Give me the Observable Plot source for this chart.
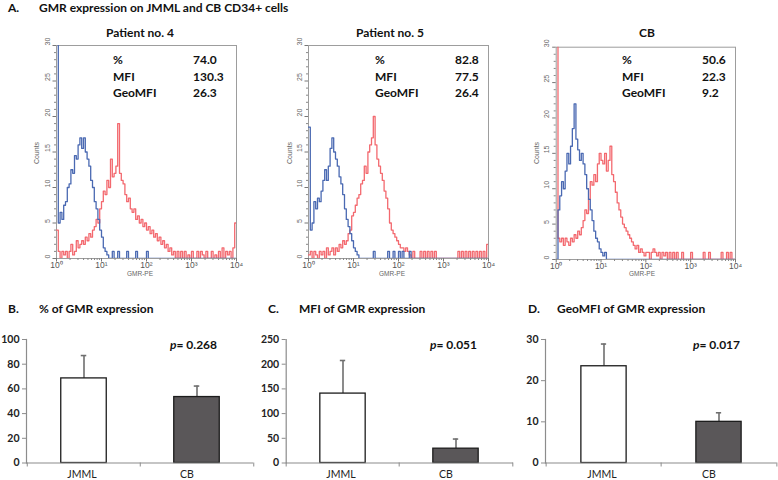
<!DOCTYPE html>
<html><head><meta charset="utf-8">
<script src="https://cdn.jsdelivr.net/npm/d3@7"></script>
<script src="https://cdn.jsdelivr.net/npm/@observablehq/plot@0.6"></script>
<style>
body{margin:0;background:#fff;}
#fig{position:relative;width:778px;height:480px;overflow:hidden;background:#fff;font-family:Lato,"Open Sans",sans-serif;}
.t{position:absolute;white-space:nowrap;font-weight:bold;color:#111;font-size:12px;line-height:1.2;}
.ax{position:absolute;white-space:nowrap;color:#666;font-family:"Liberation Sans",sans-serif;line-height:1.2;}
.p{position:absolute;}
</style></head><body><div id="fig"></div>
<script>
// ---------- data ----------
const figTitle = ["A.", "GMR expression on JMML and CB CD34+ cells"];
const histTitles = ["Patient no. 4", "Patient no. 5", "CB"];
const statLabels = ["%", "MFI", "GeoMFI"];
const statValues = [["74.0","130.3","26.3"],["82.8","77.5","26.4"],["50.6","22.3","9.2"]];
const histCountTicks = [0,5,10,15,20,25,30];
const histMinorCountTicks = [1,2,3,4,6,7,8,9,11,12,13,14,16,17,18,19,21,22,23,24,26,27,28,29];
const histDecades = [0,1,2,3,4];
const histDecadeLabels = ["10\u2070","10\u00b9","10\u00b2","10\u00b3","10\u2074"];
const histAxisLabels = ["Counts", "GMR-PE"];
const binWidth = 0.04; // decades per histogram bin

// counts per bin (bin i starts at 10^(i*0.04))
const p4Blue = [31,5,6.5,5.5,7.5,8,10,10.5,12.5,12, 14.5,14,16,17,15.5,17,15,14,13,11,
  10,8,7,5.5,4,3,1.5,1,0.5,0, 0,1,0,0,1,0,0,0,0,1, 0,0,0,0,1,0,0,0,0,0,
  1,0,0,0,0,0,0,0,0,0, 0,0,0,0,0,0,0,0,0,0, 0,0,0,0,0,0,0,0,0,0, 0,0,0,0,0,0,0,0,0,0, 0,0,0,0,0,0,0,0,0,0];
const p4Red = [4,1,0,1,0.5,1,0,1,2,0.5, 1,2.5,1.5,2,2.5,2,3,2.5,3.5,3,
  4,4.5,5.5,5,7,8,9.5,9,11,10, 14,11.5,12,13,19,12,11,10.5,9,8,
  8.5,7,6.5,7,5.5,6,5,5.5,4.5,5, 4,4.5,3.5,4,3,3.5,2.5,3,2,2.5,
  1.5,2,1,1.5,0.5,1,0,1,0,1, 0,1,0,0.5,0,1,0,0,1,0, 1,0.5,0,1,0,0,1,0,0.5,0, 1,0,1.5,0,1,0.5,1,0,1.5,5];
const p5Blue = [18.5,4,5,8,7,8.5,8,9.5,11,12.5, 11,13,15.5,17,15,14,13,11.5,10.5,9,
  7,5.5,4.5,3.5,2.5,1.5,1,0.5,0,0, 0,0,0,0,0,0,1,0,0,0, 0,0,0,0,1,0,0,1,0,0,
  1,0,1,0,0,0,1,0,0,0, 0,0,0,0,0,0,0,0,0,0, 0,0,0,0,0,0,0,0,0,0, 0,0,0,0,0,0,0,0,0,0, 0,0,0,0,0,0,0,0,0,0];
const p5Red = [0.5,1,0,1,0.5,0,1,0.5,1,0, 1.5,0.5,1,1.5,0.5,1.5,1,2,1.5,2.5,
  2,2.5,3.5,4,6,6.5,7.5,8.5,9,10.5, 11,13,12,15,16,17,20,16,14,13,
  12,11,9.5,8.5,7,5,4,3.5,3,2.5, 2,1.5,1.5,1,1.5,1,0.5,0,1,0,
  0,0,1,0,1,0,1,0,1,0, 1,0,0,0,0,0,0,0,0,0, 0,0,0,1,0,1,0,1,0,1, 0,1,0,1,0,1,0,1,0,2];
const cbBlue = [0,7,9,11,10,12.5,15,13.5,16,18.5, 22,17,15.5,14,15,13.5,12,10,8.5,7,
  5.5,4,3,2.5,1.5,1,0.5,1,0,0, 0,0,0,0,0,0,0,0,0,0, 0,0,0,0,0,0,0,0,0,0,
  0,0,0,0,0,0,0,0,0,0, 0,0,0,0,0,0,0,0,0,0, 0,0,0,0,0,0,0,0,0,0, 0,0,0,0,0,0,0,0,0,0, 0,0,0,0,0,0,0,0,0,0];
const cbRed = [31,3,2.5,3,2,3,2.5,2,3,2.5, 3.5,3,4,3.5,4.5,5.5,7,6.5,8.5,11,
  10.5,12,11,13.5,15,14,13.5,15,12.5,14, 16,12,11,9.5,8,7,6,5,4.5,4,
  3.5,3,2.5,2,1.5,2,1,1.5,1,0.5, 1,1,0,1,1.5,1,0.5,1,0,1,
  0.5,1,0,1,0,1,0,1,0,0, 1,0,0,0,0,1,0,0,0,0, 0,0,1,0,0,1,0,0,0,0, 0,0,1,0,0,1,0,1,0,0];

const barCategories = ["JMML", "CB"];
const barTitles = [["B.", "% of GMR expression"], ["C.", "MFI of GMR expression"], ["D.", "GeoMFI of GMR expression"]];
const pValues = ["0.268", "0.051", "0.017"];
const pctMean = [68.5, 53.4], pctUpper = [87, 62.3], pctTicks = [0,20,40,60,80,100];
const mfiMean = [140.5, 29], mfiUpper = [207.5, 48.5], mfiTicks = [0,50,100,150,200,250];
const geoMean = [23.5, 10], geoUpper = [28.9, 12.2], geoTicks = [0,10,20,30];

// ---------- styles ----------
const BLUE = "#4a69b2", RED = "#f3696f";
const barFill = {JMML: "#ffffff", CB: "#5a5759"};
const fig = document.getElementById("fig");

function addText(html, x, y, cls, anchor, extra) {
  const d = document.createElement("div");
  d.className = cls;
  d.innerHTML = html;
  d.style.left = x + "px";
  d.style.top = y + "px";
  d.style.transform = `translate(${anchor === "middle" ? "-50%" : "0"},-50%)` + (extra || "");
  fig.appendChild(d);
  return d;
}
function place(svg, left, top) {
  const w = document.createElement("div");
  w.className = "p"; w.style.left = left + "px"; w.style.top = top + "px";
  w.appendChild(svg); fig.appendChild(w);
}

const minorX = histDecades.slice(0, -1).flatMap(d => [2,3,4,5,6,7,8,9].map(k => d + Math.log10(k)));
const pts = arr => arr.map((v, i) => ({x: i * binWidth, y: v})).concat([{x: arr.length * binWidth, y: arr[arr.length - 1]}]);

function hist(blue, red, m) {
  return Plot.plot({
    width: 250, height: 260,
    marginLeft: m.ml, marginRight: m.mr, marginTop: m.mt, marginBottom: m.mb,
    x: {domain: [0, 4], axis: null, label: null},
    y: {domain: [0, 30], axis: null, label: null},
    style: {fontFamily: "Liberation Sans, sans-serif", background: "transparent", overflow: "visible"},
    marks: [
      Plot.frame({stroke: "#9d9d9d"}),
      Plot.line(pts(red), {x: "x", y: "y", curve: "step-after", stroke: RED, strokeWidth: 1.3, clip: true}),
      Plot.line(pts(blue), {x: "x", y: "y", curve: "step-after", stroke: BLUE, strokeWidth: 1.3, clip: true}),
      Plot.axisY({ticks: histCountTicks, tickSize: 3.5, tickFormat: () => "", stroke: "#777"}),
      Plot.axisY({ticks: histMinorCountTicks, tickSize: 2, tickFormat: () => "", stroke: "#888"}),
      Plot.text(histCountTicks, {y: d => d, text: d => String(d), frameAnchor: "left", dx: -9, rotate: -90, fontSize: 7, fill: "#666"}),
      Plot.axisX({ticks: histDecades, tickSize: 3.5, tickPadding: 0, tickFormat: d => histDecadeLabels[d], fontSize: 8.5, fill: "#555", stroke: "#777"}),
      Plot.axisX({ticks: minorX, tickSize: 2, tickFormat: () => "", stroke: "#888"})
    ]
  });
}

function bars(means, uppers, ticks, W, ml, mr) {
  const rows = barCategories.map((c, i) => ({cat: c, mean: means[i], upper: uppers[i]}));
  const bw = (W - ml - mr) / barCategories.length;
  const inset = (bw - 46) / 2;
  const cap = 3;
  const last = barCategories[barCategories.length - 1];
  return Plot.plot({
    width: W, height: 160, marginLeft: ml, marginRight: mr, marginTop: 19, marginBottom: 17.5,
    x: {domain: barCategories, padding: 0, axis: null, label: null},
    y: {domain: [0, ticks[ticks.length - 1]], axis: null, label: null},
    style: {fontFamily: "Lato, sans-serif", background: "transparent", overflow: "visible"},
    marks: [
      Plot.ruleX(rows, {x: "cat", y1: "mean", y2: "upper", stroke: "#6f6f6f", strokeWidth: 1.6}),
      Plot.tickY(rows, {x: "cat", y: "upper", stroke: "#6f6f6f", strokeWidth: 1.6, insetLeft: bw / 2 - cap, insetRight: bw / 2 - cap}),
      Plot.barY(rows, {x: "cat", y: "mean", fill: d => barFill[d.cat], stroke: "#1c1c1c", strokeWidth: 1.3, insetLeft: inset, insetRight: inset}),
      Plot.ruleY([0], {stroke: "#8c8c8c", strokeWidth: 1.2}),
      Plot.frame({anchor: "left", stroke: "#8c8c8c", strokeWidth: 1.2}),
      Plot.axisY({ticks, tickSize: 4, tickPadding: 3, fontWeight: "bold", fontSize: 10.5, fill: "#222", stroke: "#8c8c8c"}),
      Plot.ruleX(barCategories, {x: d => d, y1: 0, y2: 0, dx: -bw / 2, insetBottom: -4, stroke: "#8c8c8c"}),
      Plot.ruleX([last], {x: d => d, y1: 0, y2: 0, dx: bw / 2, insetBottom: -4, stroke: "#8c8c8c"}),
      Plot.text(rows.filter(r => r.cat !== last), {x: "cat", y: 0, text: "cat", dy: 11.5, dx: -2, fontSize: 10.5, fill: "#222"}),
      Plot.text(rows.filter(r => r.cat === last), {x: "cat", y: 0, text: "cat", dy: 11.5, dx: -10, fontSize: 10.5, fill: "#222"})
    ]
  });
}

// ---------- top row: histograms ----------
const histData = [[p4Blue, p4Red], [p5Blue, p5Red], [cbBlue, cbRed]];
const histLeft = [0, 252, 500];
const histMargins = [
  {ml: 56, mr: 14, mt: 20, mb: 27},
  {ml: 56, mr: 14, mt: 20, mb: 27},
  {ml: 55.7, mr: 15, mt: 21.7, mb: 26}
];
const titleX = [140, 390, 647], statLX = [113, 375, 622], statVX = [193, 455, 702];
const countsX = [37, 290, 537], peX = [140, 392, 642];
const statY = [60, 76.5, 92.5];

histData.forEach(([b, r], i) => {
  place(hist(b, r, histMargins[i]), histLeft[i], 25);
  addText(histTitles[i], titleX[i], 33, "t", "middle");
  statLabels.forEach((s, k) => {
    addText(s, statLX[i], statY[k], "t");
    addText(statValues[i][k], statVX[i], statY[k], "t");
  });
  const c = addText(histAxisLabels[0], countsX[i], 153, "ax", "middle", " rotate(-90deg)");
  c.style.fontSize = "7px";
  const g = addText(histAxisLabels[1], peX[i], 274, "ax", "middle");
  g.style.fontSize = "6.5px";
});
addText(figTitle[0], 8, 8, "t");
addText(figTitle[1], 39, 8, "t");

// ---------- bottom row: bar charts ----------
const barSets = [[pctMean, pctUpper, pctTicks], [mfiMean, mfiUpper, mfiTicks], [geoMean, geoUpper, geoTicks]];
const barLeft = [0, 260, 520], barW = [260, 260, 258], barML = [26, 25.7, 25], barMR = [7, 7, 1.5];
const letterX = [8, 268, 528], btitleX = [39, 299, 557], pX = [170, 430, 693];
barSets.forEach(([m, u, t], i) => {
  place(bars(m, u, t, barW[i], barML[i], barMR[i]), barLeft[i], 320);
  addText(barTitles[i][0], letterX[i], 309, "t");
  addText(barTitles[i][1], btitleX[i], 309, "t");
  addText(`<i>p</i>= ${pValues[i]}`, pX[i], 345, "t");
});
</script></body></html>
